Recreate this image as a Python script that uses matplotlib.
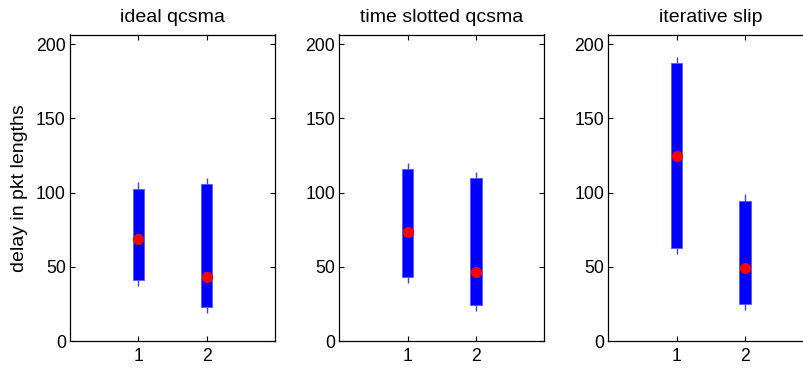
import matplotlib
matplotlib.use("Agg")
import matplotlib.pyplot as plt

plt.rcParams['font.family'] = ['Liberation Sans', 'DejaVu Sans']

titles = ["ideal qcsma", "time slotted qcsma", "iterative slip"]
positions = [1, 2]
whisker_low = [[37, 18.7], [39.4, 20], [58.5, 20.7]]
box_low = [[41, 22.7], [43.4, 24], [62.5, 24.7]]
medians = [[68.8, 43.2], [73.3, 46.3], [124.7, 49.4]]
box_high = [[102.5, 105.6], [115.7, 109.7], [187.2, 94.6]]
whisker_high = [[107, 109.7], [119.8, 114], [191.3, 98.9]]
yticks = [0, 50, 100, 150, 200]
ylabel = "delay in pkt lengths"

W, H = 804, 371
fig = plt.figure(figsize=(W / 100, H / 100), dpi=100)
lefts = [70, 339.3, 608.3]
for i, left in enumerate(lefts):
    ax = fig.add_axes([left / W, 30 / H, 205 / W, 306.5 / H])
    for j, x in enumerate(positions):
        ax.vlines(x, whisker_low[i][j], whisker_high[i][j], color='#0000ff', lw=1.0, alpha=0.75, zorder=2)
        ax.bar(x, box_high[i][j] - box_low[i][j], bottom=box_low[i][j], width=0.165,
               color='#0000ff', edgecolor='#5555ff', linewidth=0.6, zorder=3)
        ax.plot(x, medians[i][j], 'o', color='#ff0000', markersize=8, markeredgewidth=0, zorder=4)
    ax.set_xlim(0, 3)
    ax.set_ylim(0, 206.5)
    ax.set_xticks(positions)
    ax.set_yticks(yticks)
    ax.tick_params(direction='in', top=True, right=True, length=3.5, width=0.8,
                   labelsize=12.7, pad=3)
    ax.tick_params(axis='x', pad=5)
    for s in ax.spines.values():
        s.set_linewidth(0.9)
    ax.set_title(titles[i], fontsize=14, pad=9)
    if i == 0:
        ax.set_ylabel(ylabel, fontsize=14, labelpad=6)

fig.savefig("out.png", dpi=100)
